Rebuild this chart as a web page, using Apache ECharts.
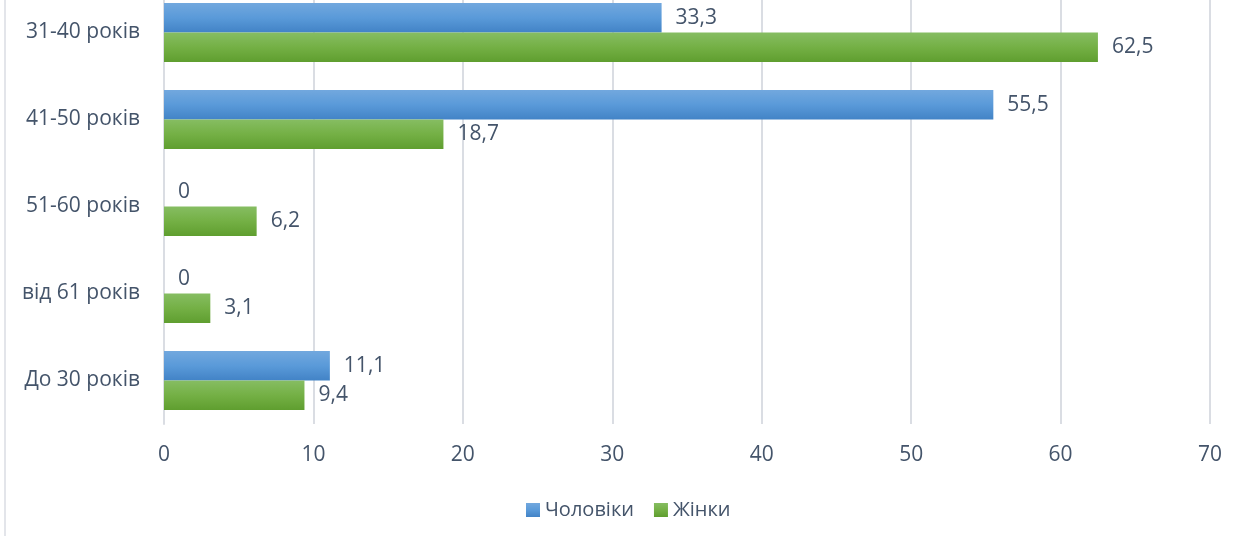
<!DOCTYPE html>
<html>
<head>
<meta charset="utf-8">
<script src="https://cdn.jsdelivr.net/npm/echarts@6/dist/echarts.min.js"></script>
<style>
html,body{margin:0;padding:0;background:#fff;overflow:hidden;}
#wrap{position:relative;width:1239px;height:539px;overflow:hidden;}
#chart{position:absolute;left:0;top:-11px;width:1239px;height:550px;}
</style>
</head>
<body>
<div id="wrap"><div id="chart"></div></div>
<script>
var categories = ['31-40 років', '41-50 років', '51-60 років', 'від 61 років', 'До 30 років'];
var seriesNames = ['Чоловіки', 'Жінки'];
var menValues = [33.3, 55.5, 0, 0, 11.1];
var womenValues = [62.5, 18.7, 6.2, 3.1, 9.4];
var xTicks = [0, 10, 20, 30, 40, 50, 60, 70];

var textColor = '#44546a';
var fontFamily = '"Open Sans", "Noto Sans", sans-serif';
var fs = 21;

function fmt(p) { return String(p.value).replace('.', ','); }

var chart = echarts.init(document.getElementById('chart'), null, {renderer: 'canvas'});
chart.setOption({
  animation: false,
  backgroundColor: '#fff',
  textStyle: {fontFamily: fontFamily},
  graphic: [{
    type: 'line',
    shape: {x1: 5, y1: 0, x2: 5, y2: 547},
    style: {stroke: '#dadde3', lineWidth: 1.5}
  }],
  grid: {left: 164, right: 29, top: 0, bottom: 115, containLabel: false},
  legend: {
    data: seriesNames,
    bottom: 14,
    left: 521,
    icon: 'rect',
    itemWidth: 14,
    itemHeight: 14,
    itemGap: 20,
    textStyle: {color: textColor, fontSize: fs - 1, fontFamily: fontFamily, padding: [0, 0, 0, 0]}
  },
  xAxis: {
    type: 'value',
    min: xTicks[0],
    max: xTicks[xTicks.length - 1],
    interval: 10,
    axisLine: {show: false},
    axisTick: {show: false},
    axisLabel: {color: textColor, fontSize: fs, margin: 21, fontFamily: fontFamily},
    splitLine: {lineStyle: {color: '#dadde3', width: 2}}
  },
  yAxis: {
    type: 'category',
    data: categories,
    inverse: true,
    axisLine: {show: true, lineStyle: {color: '#dadde3', width: 2}},
    axisTick: {show: false},
    axisLabel: {color: textColor, fontSize: fs, margin: 24, fontFamily: fontFamily, padding: [4, 0, 0, 0]}
  },
  series: [
    {
      name: seriesNames[0],
      type: 'bar',
      data: menValues,
      barGap: '0%',
      barCategoryGap: '32%',
      itemStyle: {
        color: new echarts.graphic.LinearGradient(0, 0, 0, 1, [
          {offset: 0, color: '#72a8de'},
          {offset: 0.5, color: '#5a9ad9'},
          {offset: 1, color: '#4283c6'}
        ])
      },
      label: {show: true, position: 'right', distance: 14, color: textColor, fontSize: fs, fontFamily: fontFamily, formatter: fmt}
    },
    {
      name: seriesNames[1],
      type: 'bar',
      data: womenValues,
      barGap: '0%',
      barCategoryGap: '32%',
      itemStyle: {
        color: new echarts.graphic.LinearGradient(0, 0, 0, 1, [
          {offset: 0, color: '#86bd62'},
          {offset: 0.5, color: '#74b045'},
          {offset: 1, color: '#5f9e2f'}
        ])
      },
      label: {show: true, position: 'right', distance: 14, color: textColor, fontSize: fs, fontFamily: fontFamily, formatter: fmt}
    }
  ]
});
</script>
</body>
</html>
